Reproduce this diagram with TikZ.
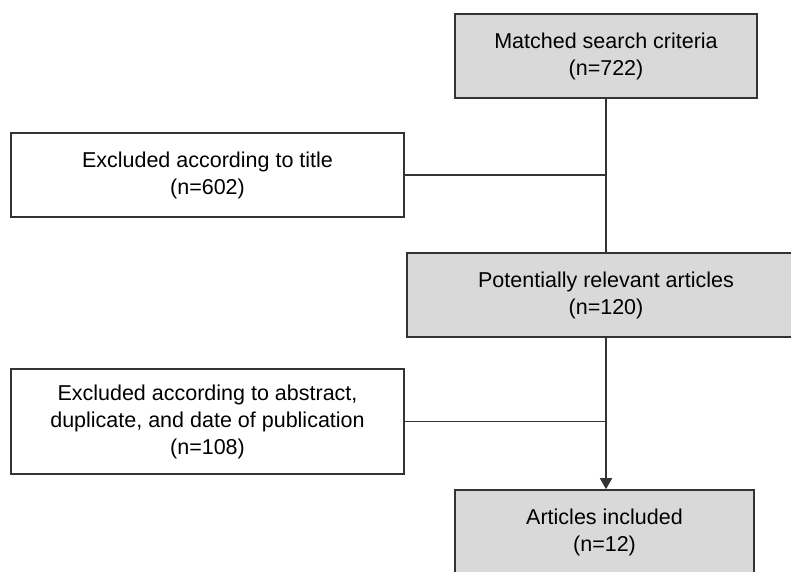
\documentclass[tikz,border=0pt]{standalone}
\usepackage{fontspec}
\setmainfont{Liberation Sans}
\usepackage{xcolor}
\usepackage{tikz}
\usetikzlibrary{arrows.meta, positioning, calc}
\definecolor{boxgray}{RGB}{217, 217, 217}
\definecolor{linegray}{RGB}{51, 51, 51}

\tikzset{
    stagebox/.style={draw=linegray, line width=1.6pt, fill=boxgray, align=center,
        minimum height=84pt, inner sep=0pt, font=\fontsize{21.5}{27}\selectfont},
    exclbox/.style={stagebox, fill=white, minimum width=393pt},
    flow/.style={draw=linegray, line width=1.6pt}
}

\begin{document}
\begin{tikzpicture}[x=1pt, y=-1pt]
    \useasboundingbox (0,0) rectangle (791,571);
    \clip (0,0) rectangle (791,571);

    % Stages
    \node[stagebox, minimum width=302pt] (matched) at (606,56) {Matched search criteria\\(n=722)};
    \node[stagebox, minimum width=398pt] (relevant) at (606,295) {Potentially relevant articles\\(n=120)};
    \node[stagebox, minimum width=299pt] (included) at (604.5,532) {Articles included\\(n=12)};

    % Exclusions
    \node[exclbox] (extitle) at (207.5,175) {Excluded according to title\\(n=602)};
    \node[exclbox, minimum height=105pt] (exabstract) at (207.5,421.5) {Excluded according to abstract,\\duplicate, and date of publication\\(n=108)};

    % Connectors
    \draw[flow] (matched.south) -- (relevant.north);
    \draw[flow, -{Triangle[length=11pt, width=12pt]}] (relevant.south) -- (relevant.south |- included.north);
    \draw[flow] (extitle.east) -- (extitle.east -| matched.south);
    \draw[flow] (exabstract.east) -- (exabstract.east -| relevant.south);
\end{tikzpicture}
\end{document}
